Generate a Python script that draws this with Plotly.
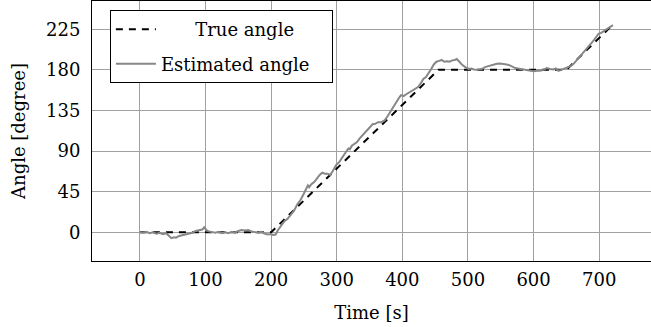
import plotly.graph_objects as go

# True angle (piecewise linear reference)
true_t = [0, 200, 455, 650, 720]
true_angle = [0, 0, 180, 180, 229.5]

# Estimated angle
est_t = [0, 5, 10, 15, 20, 25, 30, 35, 40, 45, 48, 52, 55, 60, 65, 70, 75, 80, 85, 90,
         95, 98, 102, 105, 110, 115, 120, 125, 130, 135, 140, 145, 150, 155, 160, 165, 170,
         175, 180, 185, 190, 195, 200,
         203, 207, 210, 215, 220, 225, 230, 235, 240, 245, 250, 253, 256, 258, 261, 266, 270,
         274, 278, 282, 286, 290, 294, 299, 304, 309, 314, 318, 320, 323, 327, 331, 335, 340,
         345, 350, 355, 358, 363, 368, 373, 377, 381, 386, 391, 395, 398, 402, 406, 411, 416,
         420, 424, 428, 432, 436, 440, 444, 448, 452, 456, 460, 464, 468, 472, 476, 480, 483,
         487, 491, 496, 501, 505, 509, 514, 519, 523, 526, 530, 534, 539, 544, 549, 554, 559,
         564, 568, 572, 576, 580, 585, 590, 595, 600, 605, 610, 615, 620, 625, 630, 634, 638,
         642, 646, 650, 653, 657, 661, 665, 669, 673, 676, 680, 684, 688, 692, 696, 699, 703,
         707, 711, 714, 718, 721]
est_angle = [0, -0.5, 0.5, -1, 0, -1.5, -0.5, -2, -1, -4, -6.5, -5.5, -6, -4, -3, -2.5, -1, -0.5, 1.5, 2.5,
             3, 5.5, 2, 1, 0, -0.5, 0.5, -1, 0, -1, 0.5, -0.5, 1.5, 2.5, 2, 2.5, 1,
             0, -0.5, 0.5, -1.5, -2.5, -2,
             -3, -2.5, 2, 7, 12, 15, 20, 24, 31, 36, 43, 47, 52, 50, 53, 56, 60,
             63.5, 66, 65, 65, 63.5, 68, 74.5, 78, 84, 89, 93, 92, 96, 98, 100, 104, 108,
             113, 116, 120, 120, 122, 122, 124, 128, 133, 138, 144, 149, 152, 151, 153, 155, 157,
             159, 161, 165, 170, 172, 176, 181, 186, 189, 190, 191, 189, 189.5, 189, 190.5, 191, 192,
             189, 185.6, 183, 181, 181.5, 180.4, 180, 181, 181.5, 183, 184, 184.8, 186, 186.7, 187, 186.7, 186,
             185, 183.5, 182, 181.5, 181, 180.5, 180, 179, 178.5, 179, 179, 180, 182, 181, 180.4, 181.5, 179,
             180, 181, 182, 183, 184.5, 186.7, 190, 193, 197, 199.7, 202, 205.3, 209, 213, 217, 220, 221,
             222.8, 224.5, 226, 227.5, 229.5]

x_ticks = [0, 100, 200, 300, 400, 500, 600, 700]
y_ticks = [0, 45, 90, 135, 180, 225]

FONT = "DejaVu Serif"
NB = "\u00a0"

fig = go.Figure()
fig.add_trace(go.Scatter(
    x=true_t, y=true_angle, mode="lines",
    name=NB * 6 + "True angle", legendgroup="a",
    line=dict(color="black", width=2, dash="7px,6px"),
))
fig.add_trace(go.Scatter(
    x=est_t, y=est_angle, mode="lines",
    name="Estimated angle" + NB * 3, legendgroup="b",
    line=dict(color="#878787", width=2),
))

fig.update_layout(
    width=651, height=327,
    margin=dict(l=92, r=0, t=1, b=66, autoexpand=False),
    paper_bgcolor="white", plot_bgcolor="white",
    font=dict(family=FONT, size=18, color="black"),
    showlegend=True,
    legend=dict(
        x=0.032, y=0.965, xanchor="left", yanchor="top",
        bgcolor="white", bordercolor="black", borderwidth=1,
        font=dict(family=FONT, size=18, color="black"),
        tracegroupgap=8, itemwidth=40,
    ),
    xaxis=dict(
        range=[-73, 779], tickvals=x_ticks, ticktext=[str(v) for v in x_ticks],
        showgrid=True, gridcolor="#a0a0a0", gridwidth=1,
        showline=True, linecolor="black", linewidth=1, mirror=True,
        zeroline=False, ticks="", ticklabelstandoff=2, automargin=False,
        title=dict(text="Time [s]", standoff=17, font=dict(size=18)),
    ),
    yaxis=dict(
        range=[-31.8, 256.3], tickvals=y_ticks, ticktext=[str(v) for v in y_ticks],
        showgrid=True, gridcolor="#a0a0a0", gridwidth=1,
        showline=True, linecolor="black", linewidth=1,
        zeroline=False, ticks="", ticklabelstandoff=7, automargin=False,
        title=dict(text="Angle [degree]", standoff=15, font=dict(size=18)),
    ),
)

fig.write_html(
    "out.html",
    config={"displayModeBar": False},
    post_script=(
        "document.documentElement.style.overflow='hidden';"
        "document.body.style.overflow='hidden';"
        "document.body.style.margin='0';"
    ),
)
